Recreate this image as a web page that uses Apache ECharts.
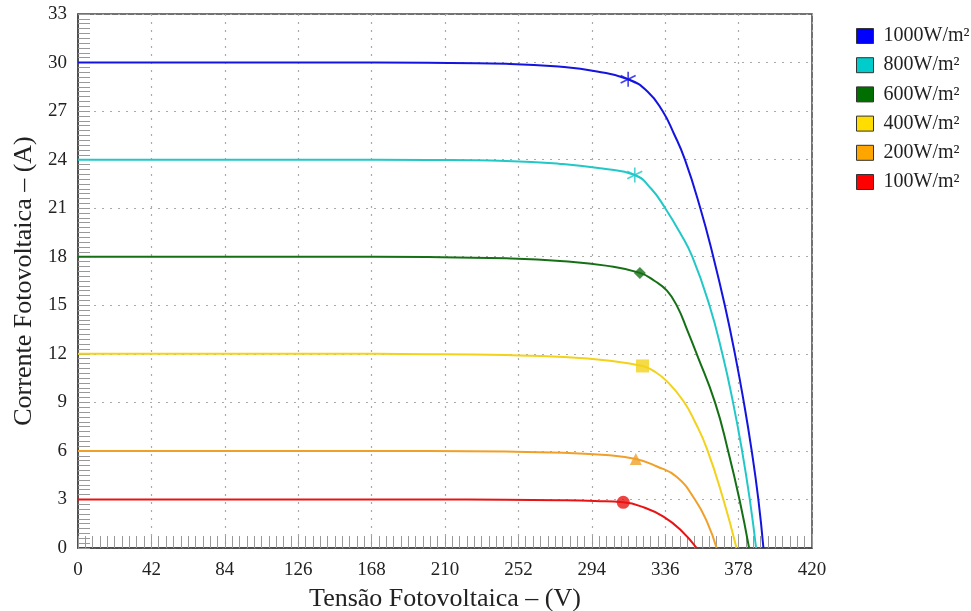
<!DOCTYPE html>
<html>
<head>
<meta charset="utf-8">
<script src="https://cdn.jsdelivr.net/npm/echarts@6/dist/echarts.min.js"></script>
<style>html,body{margin:0;padding:0;background:#fff}#c{width:971px;height:611px}</style>
</head>
<body>
<div id="c"></div>
<script>
var seriesNames = ['1000W/m²','800W/m²','600W/m²','400W/m²','200W/m²','100W/m²'];
var xTicks = [0,42,84,126,168,210,252,294,336,378,420];
var yTicks = [0,3,6,9,12,15,18,21,24,27,30,33];

var curve1000 = [[0,30],[70,30],[140,30],[200,29.98],[245,29.92],[275,29.75],[297,29.45],[314.8,28.97],[326,28.2],[334.5,27],[341,25.6],[347.3,24],[356.1,21],[363.5,18],[370.1,15],[375.9,12],[381,9],[385.5,6],[389.3,3],[392.2,0]];
var curve800 = [[0,24],[70,24],[140,24],[200,23.98],[245,23.92],[275,23.75],[300,23.45],[318.6,23.05],[328,22.2],[336,21],[344.4,19.5],[351.5,18],[361.3,15],[368.7,12],[374.8,9],[380,6],[384.4,3],[388,0]];
var curve600 = [[0,18],[70,18],[140,18],[200,17.98],[245,17.9],[278,17.72],[302,17.45],[321.5,17],[330,16.5],[337,15.9],[343,14.9],[348.5,13.5],[354,12],[364.5,9],[372,6],[378.5,3],[384,0]];
var curve400 = [[0,12],[70,12],[140,12],[200,11.98],[245,11.92],[278,11.8],[303,11.58],[323,11.25],[330,10.9],[337,10.3],[346.3,9.1],[353,7.8],[360,6.1],[369,3.1],[376.8,0]];
var curve200 = [[0,6],[70,6],[140,6],[200,5.99],[245,5.96],[278,5.88],[302,5.74],[319.2,5.5],[331,5.05],[342.5,4.4],[353,3],[360,1.6],[365.4,0]];
var curve100 = [[0,3],[70,3],[140,3],[200,3],[245,2.98],[275,2.95],[296,2.9],[312,2.82],[324,2.5],[335,1.94],[345,1.1],[354,0]];
var mpp = [[314.8,28.97],[318.6,23.05],[321.5,17.0],[323,11.25],[319.2,5.5],[312,2.82]];

var curves = [curve1000,curve800,curve600,curve400,curve200,curve100];
var lineColors = ['#1414e0','#22c8c8','#157015','#f2d21a','#f0a028','#e81414'];
var legendColors = ['#0000ff','#00cccc','#006e00','#ffdd00','#ffa500','#ff0000'];
var symbols = [
  'path://M0,-10L0,10M-9,-5L9,5M-9,5L9,-5',
  'path://M0,-10L0,10M-9,-5L9,5M-9,5L9,-5',
  'diamond','rect','triangle','circle'
];
var symSizes = [15,15,12,13,12,13];

var series = [];
curves.forEach(function(c,i){
  series.push({
    name: seriesNames[i], type:'line', data:c, smooth:0.5,
    showSymbol:false, symbol:'rect',
    lineStyle:{color:lineColors[i], width:2},
    itemStyle:{color:legendColors[i], borderColor:'#333', borderWidth:1},
    z:2
  });
});
mpp.forEach(function(p,i){
  var stroke = i<2;
  series.push({
    name:'mpp'+i, type:'scatter', data:[p], symbol:symbols[i], symbolSize:symSizes[i],
    itemStyle: stroke ? {color:'none', borderColor:lineColors[i], borderWidth:1.6} : {color:lineColors[i]},
    z:3, silent:true
  });
});

var font = 'Liberation Serif';
var chart = echarts.init(document.getElementById('c'));
chart.setOption({
  animation:false,
  backgroundColor:'#fff',
  grid:{left:78, right:159, top:14, bottom:63, outerBoundsMode:'none', containLabel:false, show:true, borderColor:'#444', borderWidth:1.5, backgroundColor:'transparent'},
  legend:{
    data:seriesNames, orient:'vertical', left:851, top:21, itemWidth:17, itemHeight:15, itemGap:9.2,
    icon:'rect',
    textStyle:{fontFamily:font, fontSize:20, lineHeight:15, color:'#222', padding:[0,0,0,5]},
    itemStyle:{borderColor:'#333', borderWidth:1}
  },
  xAxis:{
    type:'value', min:0, max:420, interval:42,
    name:'Tensão Fotovoltaica – (V)', nameLocation:'middle', nameGap:38,
    nameTextStyle:{fontFamily:font, fontSize:26, color:'#222'},
    axisLine:{show:true, lineStyle:{color:'#444', width:1.5}},
    axisTick:{show:true, inside:true, length:12, lineStyle:{color:'#999'}},
    minorTick:{show:true, splitNumber:10, length:12, lineStyle:{color:'#999'}},
    axisLabel:{fontFamily:font, fontSize:19, color:'#222', margin:13},
    splitLine:{show:true, lineStyle:{color:'#aaa', type:[2,6], width:1.2}}
  },
  yAxis:{
    type:'value', min:0, max:33, interval:3,
    name:'Corrente Fotovoltaica – (A)', nameLocation:'middle', nameGap:38,
    nameTextStyle:{fontFamily:font, fontSize:26, color:'#222'},
    axisLine:{show:true, lineStyle:{color:'#444', width:1.5}},
    axisTick:{show:true, inside:true, length:12, lineStyle:{color:'#999'}},
    minorTick:{show:true, splitNumber:10, length:12, lineStyle:{color:'#999'}},
    axisLabel:{fontFamily:font, fontSize:19, color:'#222', margin:11},
    splitLine:{show:true, lineStyle:{color:'#aaa', type:[2,6], width:1.2}}
  },
  series:series
});
</script>
</body>
</html>
